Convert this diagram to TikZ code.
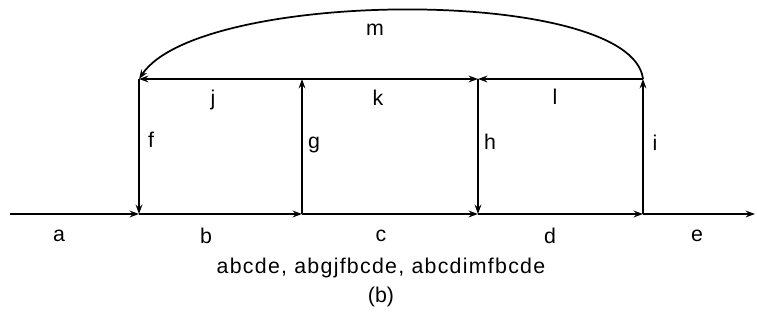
\documentclass[tikz,border=0pt]{standalone}
\usepackage{fontspec}
\setmainfont{Liberation Sans}
\usetikzlibrary{arrows.meta}

\tikzset{
    edge/.style={line width=1.3pt, -{Stealth[length=7pt,width=5pt]}},
    lbl/.style={font=\fontsize{16}{19}\selectfont, inner sep=0pt}
}

\begin{document}
\begin{tikzpicture}[x=0.75pt, y=-0.75pt]
        \useasboundingbox (0,0) rectangle (757,328);

        \coordinate (start) at (10,214);
        \coordinate (fbot) at (139,214);
        \coordinate (gbot) at (302,214);
        \coordinate (hbot) at (478,214);
        \coordinate (ibot) at (643,214);
        \coordinate (stop) at (755,214);
        \coordinate (ftop) at (139,79);
        \coordinate (gtop) at (302,79);
        \coordinate (htop) at (478,79);
        \coordinate (itop) at (643,79);

        \draw[edge] (start) -- (fbot);
        \draw[edge] (fbot) -- (gbot);
        \draw[edge] (gbot) -- (hbot);
        \draw[edge] (hbot) -- (ibot);
        \draw[edge] (ibot) -- (stop);

        \draw[edge] (ftop) -- (fbot);
        \draw[edge] (gbot) -- (gtop);
        \draw[edge] (htop) -- (hbot);
        \draw[edge] (ibot) -- (itop);

        \draw[edge] (gtop) -- (ftop);
        \draw[edge] (gtop) -- (htop);
        \draw[edge] (itop) -- (htop);
        \draw[edge] (itop) .. controls (632,-14) and (200,-12) .. (ftop);

        \node[lbl] (la) at (59,236) {a};
        \node[lbl] (lb) at (206,236) {b};
        \node[lbl] (lc) at (381,236) {c};
        \node[lbl] (ld) at (550,236) {d};
        \node[lbl] (le) at (697,236) {e};

        \node[lbl] (lf) at (151,140) {f};
        \node[lbl] (lg) at (314,145) {g};
        \node[lbl] (lh) at (490,142) {h};
        \node[lbl] (li) at (655,143) {i};

        \node[lbl] (lj) at (213,100) {j};
        \node[lbl] (lk) at (378,98) {k};
        \node[lbl] (ll) at (555,97) {l};
        \node[lbl] (lm) at (375,30) {m};

        \node[lbl] (paths) at (381,268) {\addfontfeature{LetterSpace=6}abcde, abgjfbcde, abcdimfbcde};
        \node[lbl] (tag) at (381,297) {(b)};
    \end{tikzpicture}
\end{document}
